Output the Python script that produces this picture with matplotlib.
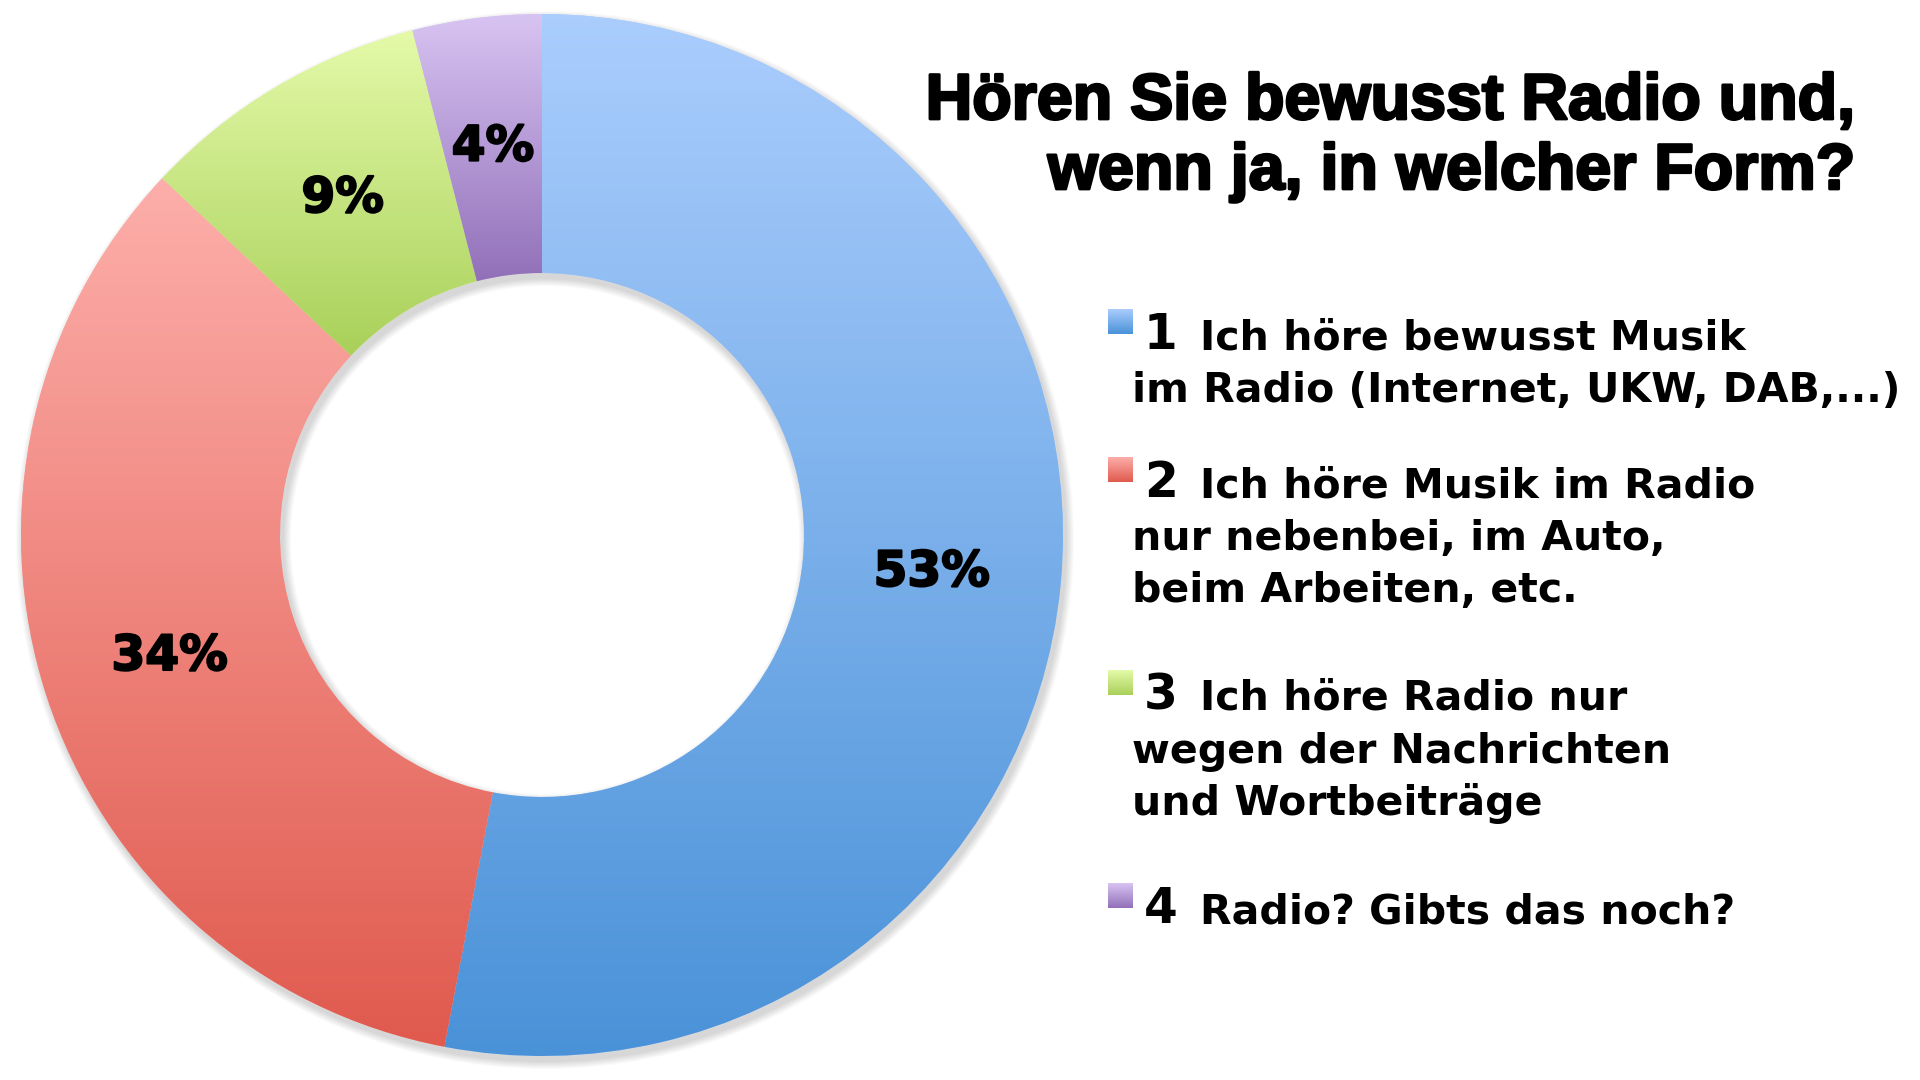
import matplotlib
matplotlib.use("Agg")
import matplotlib.pyplot as plt
import matplotlib.patheffects as pe
import numpy as np
from matplotlib.colors import LinearSegmentedColormap
from matplotlib.patches import Wedge

# survey answers (percent)
values = [53, 34, 9, 4]
numbers = ["1", "2", "3", "4"]
answers = [
    ["Ich höre bewusst Musik", "im Radio (Internet, UKW, DAB,...)"],
    ["Ich höre Musik im Radio", "nur nebenbei, im Auto,", "beim Arbeiten, etc."],
    ["Ich höre Radio nur", "wegen der Nachrichten", "und Wortbeiträge"],
    ["Radio? Gibts das noch?"],
]
title_lines = ["Hören Sie bewusst Radio und,", "wenn ja, in welcher Form?"]

# gradient colours of each wedge, top -> bottom
top_colors = ["#aacdfd", "#fdaeaa", "#e4faa9", "#d8c4f2"]
bottom_colors = ["#4a92d8", "#e05a4e", "#a9d05a", "#9270b9"]

W, H = 1920, 1080
fig = plt.figure(figsize=(19.2, 10.8), dpi=100)
ax = fig.add_axes([0, 0, 1, 1])

cx, cy = 542, H - 535
R, r = 521, 262

# soft drop shadow under the ring
for s in range(1, 9):
    sh = Wedge((cx + 3, cy - 5), R + s, 0, 360, width=(R - r) + 2 * s,
               facecolor="black", edgecolor="none", alpha=0.018, zorder=0)
    ax.add_patch(sh)

wedges, _, autotexts = ax.pie(
    values, startangle=90, counterclock=False, radius=R, center=(cx, cy),
    colors=top_colors, wedgeprops=dict(width=R - r, linewidth=0),
    autopct=lambda p: "%d%%" % round(p), pctdistance=(R + r) / 2 / R,
    textprops=dict(fontsize=35, fontweight="bold", family="DejaVu Sans", color="black"),
)

grad = np.linspace(0, 1, 256).reshape(-1, 1)
for w, c0, c1 in zip(wedges, top_colors, bottom_colors):
    w.set_zorder(1)
    ext = w.get_path().get_extents()
    cmap = LinearSegmentedColormap.from_list("g", [c0, c1])
    im = ax.imshow(grad, extent=[ext.x0, ext.x1, ext.y0, ext.y1], origin="upper",
                   cmap=cmap, aspect="auto", zorder=2, interpolation="bilinear")
    im.set_clip_path(w)

for t in autotexts:
    t.set_zorder(5)
    t.set_path_effects([pe.withStroke(linewidth=1.5, foreground="black")])

# title
for i, line in enumerate(title_lines):
    ax.text(1856, H - (119 + 70 * i), line, ha="right", va="baseline",
            fontsize=46.5, fontweight="bold", family="Liberation Sans",
            path_effects=[pe.withStroke(linewidth=2, foreground="black")])

# legend
item_base = [349, 497, 710, 923]
line_gap = 52.5
for k in range(len(values)):
    b = item_base[k]
    cmap = LinearSegmentedColormap.from_list("s", [top_colors[k], bottom_colors[k]])
    ax.imshow(grad, extent=[1108, 1133, H - (b - 15), H - (b - 40)], origin="upper",
              cmap=cmap, aspect="auto", zorder=3)
    ax.text(1144, H - b, numbers[k], ha="left", va="baseline", fontsize=35,
            fontweight="bold", family="DejaVu Sans")
    for j, line in enumerate(answers[k]):
        x = 1200 if j == 0 else 1132
        ax.text(x, H - (b + j * line_gap), line, ha="left", va="baseline",
                fontsize=29.5, fontweight="bold", family="DejaVu Sans")

ax.set_xlim(0, W)
ax.set_ylim(0, H)
ax.axis("off")

fig.savefig("out.png", dpi=100, facecolor="white")
